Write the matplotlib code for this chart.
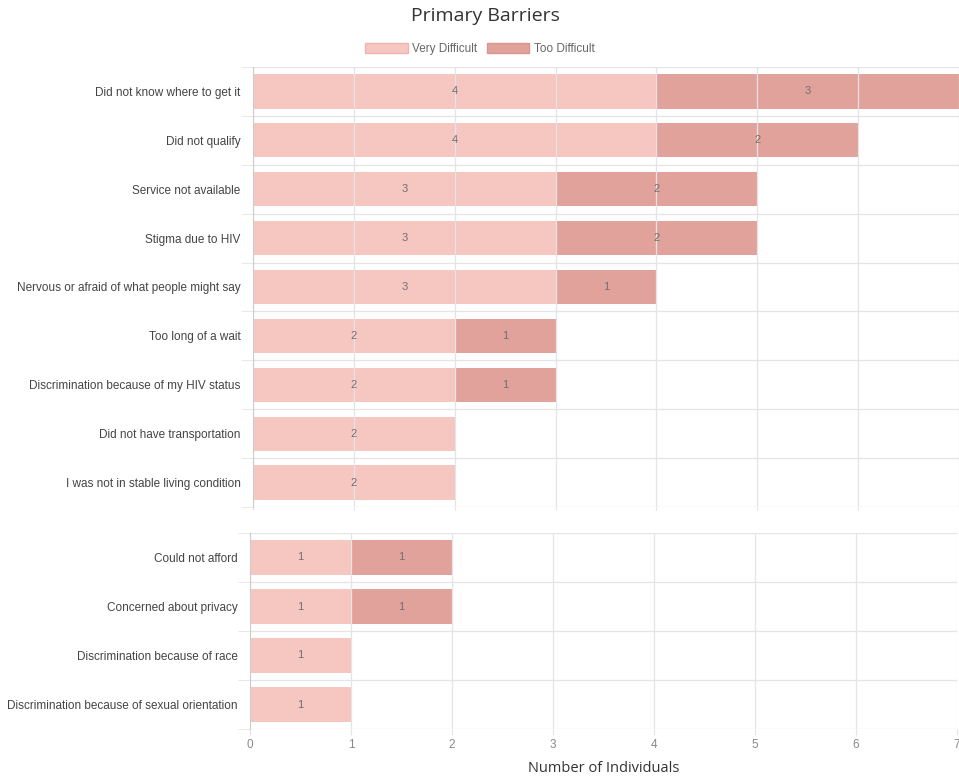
import matplotlib
matplotlib.use("Agg")
from matplotlib import pyplot as plt
import numpy as np

# top group
top_labels = ["Did not know where to get it", "Did not qualify", "Service not available",
              "Stigma due to HIV", "Nervous or afraid of what people might say",
              "Too long of a wait", "Discrimination because of my HIV status",
              "Did not have transportation", "I was not in stable living condition"]
top_very = [4, 4, 3, 3, 3, 2, 2, 2, 2]
top_too = [3, 2, 2, 2, 1, 1, 1, 0, 0]

# bottom group
bot_labels = ["Could not afford", "Concerned about privacy",
              "Discrimination because of race", "Discrimination because of sexual orientation"]
bot_very = [1, 1, 1, 1]
bot_too = [1, 1, 0, 0]

x_ticks = [0, 1, 2, 3, 4, 5, 6, 7]

c_very = "#f6c6c1"
c_too = "#e2a29c"
grid_c = "#e4e4e4"
txt_c = "#444444"

plt.rcParams["font.family"] = ["Liberation Sans", "DejaVu Sans"]


def _draw(ax, labels, very, too, show_x):
    n = len(labels)
    y = np.arange(n)
    ax.barh(y, very, height=0.7, color=c_very, zorder=1)
    ax.barh(y, too, left=very, height=0.7, color=c_too, zorder=1)
    for i in range(n):
        if very[i]:
            ax.text(very[i] / 2, y[i], str(very[i]), ha="center", va="center",
                    fontsize=8, color="#707070", zorder=3)
        if too[i]:
            ax.text(very[i] + too[i] / 2, y[i], str(too[i]), ha="center", va="center",
                    fontsize=8, color="#707070", zorder=3)
    ax.set_xlim(0, 7)
    ax.set_ylim(n - 0.5, -0.5)
    ax.set_yticks(y)
    ax.set_yticklabels(labels, fontsize=8.5, color=txt_c)
    ax.set_yticks(np.arange(n + 1) - 0.5, minor=True)
    ax.set_xticks(x_ticks)
    ax.grid(axis="x", color=grid_c, lw=0.9, zorder=2)
    ax.grid(axis="y", which="minor", color=grid_c, lw=0.9, zorder=2)
    ax.tick_params(axis="y", which="major", length=0, pad=9)
    ax.tick_params(axis="y", which="minor", length=9, color=grid_c)
    ax.tick_params(axis="x", length=4 if show_x else 2, color=grid_c, labelsize=8.5,
                   labelcolor="#888888", pad=3)
    if not show_x:
        ax.set_xticklabels([])
    for s in ["top", "right", "bottom"]:
        ax.spines[s].set_visible(False)
    ax.spines["left"].set_color("#cccccc")


fig = plt.figure(figsize=(9.59, 7.79), dpi=100)
ax1 = fig.add_axes([253 / 959, 1 - 507 / 779, 706 / 959, 440 / 779])
ax2 = fig.add_axes([250 / 959, 1 - 729 / 779, 707 / 959, 196 / 779])
_draw(ax1, top_labels, top_very, top_too, False)
_draw(ax2, bot_labels, bot_very, bot_too, True)

fig.text(604 / 959, 1 - 768 / 779, "Number of Individuals", ha="center", va="center",
         fontsize=10.5, color="#333333", family="Open Sans")
fig.text(485 / 959, 1 - 16 / 779, "Primary Barriers", ha="center", va="center",
         fontsize=14, color="#333333", family="Open Sans")

h1 = plt.Rectangle((0, 0), 1, 1, facecolor=c_very, edgecolor="#f0b4ae")
h2 = plt.Rectangle((0, 0), 1, 1, facecolor=c_too, edgecolor="#d9958e")
fig.legend([h1, h2], ["Very Difficult", "Too Difficult"], loc="center",
           bbox_to_anchor=(480 / 959, 1 - 49 / 779), ncol=2, frameon=False,
           fontsize=8.5, handlelength=3.6, handleheight=1.0, columnspacing=0.8,
           handletextpad=0.4, labelcolor="#666666")

fig.savefig("out.png", dpi=100)
